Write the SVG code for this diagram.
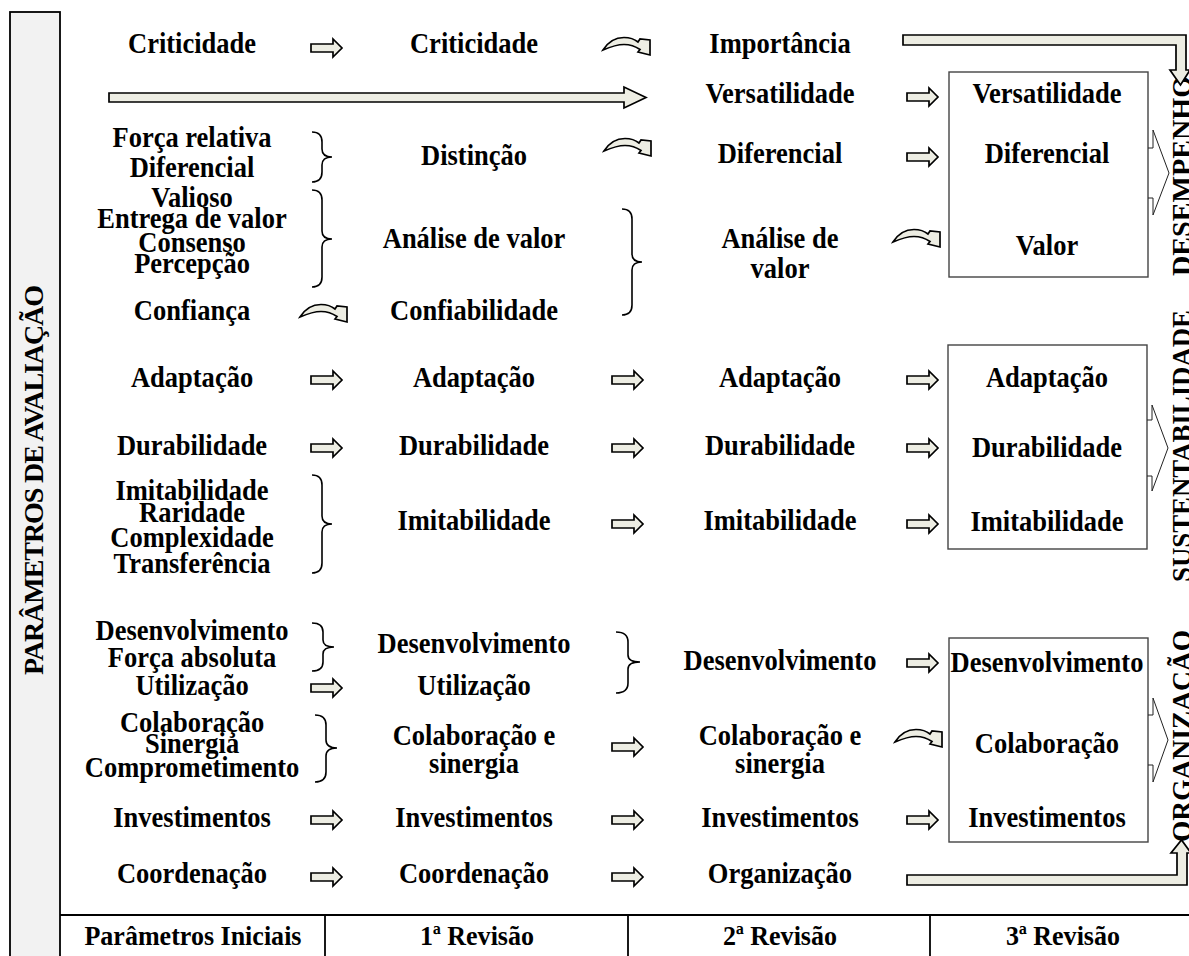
<svg xmlns="http://www.w3.org/2000/svg" xmlns:xlink="http://www.w3.org/1999/xlink" width="1189" height="956" viewBox="0 0 1189 956">
<style>
  text { font-family: "Liberation Serif", "Times New Roman", serif; font-weight: bold; fill: #000; }
  .t { font-size: 28.5px; text-anchor: middle; }
  .side { font-size: 28px; text-anchor: middle; }
  .tab { font-size: 28px; text-anchor: middle; }
  .arr { fill: #EDEDE3; stroke: #000; stroke-width: 1.7; stroke-linejoin: miter; }
  .brace { fill: none; stroke: #000; stroke-width: 1.6; }
  .box { fill: none; stroke: #444; stroke-width: 1.4; }
  .chev { fill: none; stroke: #222; stroke-width: 1; }
  .line { fill: none; stroke: #000; stroke-width: 1.8; }
</style>
<defs>
  <path id="sa" class="arr" d="M0,-4 H22 V-9 L31,0 L22,9 V4 H0 Z"/>
  <path id="ca" class="arr" d="M0,14 C5,6 13,1.5 21,1.5 C27,1.5 32,3.5 35,6 L37,3 L47,4 L47,19 L35,16 L37,13.5 C32,10 27,8.5 21,8.5 C13,8.5 7,11 0,14 Z"/>
</defs>
<rect width="1189" height="956" fill="#fff"/>

<g id="left-bar">
  <rect x="10" y="12" width="50" height="950" fill="#F2F2F2" stroke="#000" stroke-width="1.8"/>
  <text class="side" font-size="24" transform="translate(43,480) rotate(-90)" textLength="390" lengthAdjust="spacing">PARÂMETROS DE AVALIAÇÃO</text>
</g>

<g id="table">
  <line class="line" x1="60" y1="915" x2="1189" y2="915"/>
  <line class="line" x1="325" y1="915" x2="325" y2="956"/>
  <line class="line" x1="628" y1="915" x2="628" y2="956"/>
  <line class="line" x1="930" y1="915" x2="930" y2="956"/>
  <g transform="scale(0.93,1)">
    <text class="tab" x="207.5" y="945">Parâmetros Iniciais</text>
    <text class="tab" x="512.9" y="945">1ª Revisão</text>
    <text class="tab" x="838.7" y="945">2ª Revisão</text>
    <text class="tab" x="1143" y="945">3ª Revisão</text>
  </g>
</g>

<g id="col1" transform="scale(0.93,1)">
  <text class="t" x="206.5" y="53">Criticidade</text>
  <text class="t" x="206.5" y="147">Força relativa</text>
  <text class="t" x="206.5" y="177">Diferencial</text>
  <text class="t" x="206.5" y="207">Valioso</text>
  <text class="t" x="206.5" y="228">Entrega de valor</text>
  <text class="t" x="206.5" y="252">Consenso</text>
  <text class="t" x="206.5" y="273">Percepção</text>
  <text class="t" x="206.5" y="320">Confiança</text>
  <text class="t" x="206.5" y="387">Adaptação</text>
  <text class="t" x="206.5" y="455">Durabilidade</text>
  <text class="t" x="206.5" y="500">Imitabilidade</text>
  <text class="t" x="206.5" y="522">Raridade</text>
  <text class="t" x="206.5" y="547">Complexidade</text>
  <text class="t" x="206.5" y="573">Transferência</text>
  <text class="t" x="206.5" y="640">Desenvolvimento</text>
  <text class="t" x="206.5" y="667">Força absoluta</text>
  <text class="t" x="206.5" y="695">Utilização</text>
  <text class="t" x="206.5" y="732">Colaboração</text>
  <text class="t" x="206.5" y="753">Sinergia</text>
  <text class="t" x="206.5" y="777">Comprometimento</text>
  <text class="t" x="206.5" y="827">Investimentos</text>
  <text class="t" x="206.5" y="883">Coordenação</text>
</g>

<g id="col2" transform="scale(0.93,1)">
  <text class="t" x="509.7" y="53">Criticidade</text>
  <text class="t" x="509.7" y="165">Distinção</text>
  <text class="t" x="509.7" y="248">Análise de valor</text>
  <text class="t" x="509.7" y="320">Confiabilidade</text>
  <text class="t" x="509.7" y="387">Adaptação</text>
  <text class="t" x="509.7" y="455">Durabilidade</text>
  <text class="t" x="509.7" y="530">Imitabilidade</text>
  <text class="t" x="509.7" y="653">Desenvolvimento</text>
  <text class="t" x="509.7" y="695">Utilização</text>
  <text class="t" x="509.7" y="745">Colaboração e</text>
  <text class="t" x="509.7" y="773">sinergia</text>
  <text class="t" x="509.7" y="827">Investimentos</text>
  <text class="t" x="509.7" y="883">Coordenação</text>
</g>

<g id="col3" transform="scale(0.93,1)">
  <text class="t" x="838.7" y="53">Importância</text>
  <text class="t" x="838.7" y="103">Versatilidade</text>
  <text class="t" x="838.7" y="163">Diferencial</text>
  <text class="t" x="838.7" y="248">Análise de</text>
  <text class="t" x="838.7" y="278">valor</text>
  <text class="t" x="838.7" y="387">Adaptação</text>
  <text class="t" x="838.7" y="455">Durabilidade</text>
  <text class="t" x="838.7" y="530">Imitabilidade</text>
  <text class="t" x="838.7" y="670">Desenvolvimento</text>
  <text class="t" x="838.7" y="745">Colaboração e</text>
  <text class="t" x="838.7" y="773">sinergia</text>
  <text class="t" x="838.7" y="827">Investimentos</text>
  <text class="t" x="838.7" y="883">Organização</text>
</g>

<g id="box-desempenho">
  <rect class="box" x="949" y="72" width="199" height="205"/>
  <g transform="scale(0.93,1)">
    <text class="t" x="1125.8" y="103">Versatilidade</text>
    <text class="t" x="1125.8" y="163">Diferencial</text>
    <text class="t" x="1125.8" y="255">Valor</text>
  </g>
</g>
<g id="box-sustentabilidade">
  <rect class="box" x="948" y="345" width="199" height="204"/>
  <g transform="scale(0.93,1)">
    <text class="t" x="1125.8" y="387">Adaptação</text>
    <text class="t" x="1125.8" y="457">Durabilidade</text>
    <text class="t" x="1125.8" y="531">Imitabilidade</text>
  </g>
</g>
<g id="box-organizacao">
  <rect class="box" x="949" y="638" width="199" height="204"/>
  <g transform="scale(0.93,1)">
    <text class="t" x="1125.8" y="672">Desenvolvimento</text>
    <text class="t" x="1125.8" y="753">Colaboração</text>
    <text class="t" x="1125.8" y="827">Investimentos</text>
  </g>
</g>

<g id="side-labels">
  <text class="side" transform="translate(1191,176) rotate(-90)" textLength="200" lengthAdjust="spacingAndGlyphs">DESEMPENHO</text>
  <text class="side" transform="translate(1191,446) rotate(-90)" textLength="272" lengthAdjust="spacingAndGlyphs">SUSTENTABILIDADE</text>
  <text class="side" transform="translate(1191,736) rotate(-90)" textLength="212" lengthAdjust="spacingAndGlyphs">ORGANIZAÇÃO</text>
</g>

<g id="connectors">
  <!-- braces -->
  <path class="brace" d="M312,132 Q322,132 322,142 L322,149 Q322,157 332,157 Q322,157 322,165 L322,172 Q322,182 312,182"/>
  <path class="brace" d="M312,190 Q322,190 322,200 L322,231 Q322,239 332,239 Q322,239 322,247 L322,277 Q322,287 312,287"/>
  <path class="brace" d="M622,209 Q632,209 632,219 L632,254 Q632,262 642,262 Q632,262 632,270 L632,305 Q632,315 622,315"/>
  <path class="brace" d="M312,475 Q322,475 322,485 L322,516 Q322,524 332,524 Q322,524 322,532 L322,563 Q322,573 312,573"/>
  <path class="brace" d="M312,623 Q323,623 323,632 L323,640 Q323,647 334,647 Q323,647 323,654 L323,662 Q323,671 312,671"/>
  <path class="brace" d="M616,632 Q628,632 628,642 L628,655 Q628,662 640,662 Q628,662 628,669 L628,683 Q628,693 616,693"/>
  <path class="brace" d="M315,715 Q326,715 326,725 L326,740 Q326,748 337,748 Q326,748 326,756 L326,772 Q326,782 315,782"/>

  <!-- straight arrows -->
  <use xlink:href="#sa" transform="translate(311,48)"/>
  <use xlink:href="#sa" transform="translate(311,380)"/>
  <use xlink:href="#sa" transform="translate(311,448)"/>
  <use xlink:href="#sa" transform="translate(311,688)"/>
  <use xlink:href="#sa" transform="translate(311,820)"/>
  <use xlink:href="#sa" transform="translate(311,877)"/>
  <use xlink:href="#sa" transform="translate(612,380)"/>
  <use xlink:href="#sa" transform="translate(612,448)"/>
  <use xlink:href="#sa" transform="translate(612,524)"/>
  <use xlink:href="#sa" transform="translate(612,747)"/>
  <use xlink:href="#sa" transform="translate(612,820)"/>
  <use xlink:href="#sa" transform="translate(612,877)"/>
  <use xlink:href="#sa" transform="translate(907,97)"/>
  <use xlink:href="#sa" transform="translate(907,157)"/>
  <use xlink:href="#sa" transform="translate(907,380)"/>
  <use xlink:href="#sa" transform="translate(907,448)"/>
  <use xlink:href="#sa" transform="translate(907,524)"/>
  <use xlink:href="#sa" transform="translate(907,663)"/>
  <use xlink:href="#sa" transform="translate(907,820)"/>

  <!-- curved arrows -->
  <use xlink:href="#ca" transform="translate(603,36)"/>
  <use xlink:href="#ca" transform="translate(604,137)"/>
  <use xlink:href="#ca" transform="translate(300,303)"/>
  <use xlink:href="#ca" transform="translate(893,228)"/>
  <use xlink:href="#ca" transform="translate(895,728)"/>

  <!-- long arrow row 2 -->
  <path class="arr" d="M109,93 H624 V87 L646,97.5 L624,108 V102 H109 Z"/>
  <!-- top L arrow -->
  <path class="arr" d="M903,35 H1186 V70 H1190 L1180.5,85 L1170,70 H1176 V45 H903 Z"/>
  <!-- bottom L arrow -->
  <path class="arr" d="M907,885 H1187 V853 H1191 L1181.5,840 L1171,853 H1177 V875 H907 Z"/>

  <!-- chevrons from boxes -->
  <path class="chev" d="M1148,148 H1153 V130 L1169,173 L1153,215 V198 H1148"/>
  <path class="chev" d="M1147,420 H1152 V405 L1168,448 L1152,491 V476 H1147"/>
  <path class="chev" d="M1148,715 H1153 V698 L1168,740 L1153,782 V765 H1148"/>
</g>
</svg>
